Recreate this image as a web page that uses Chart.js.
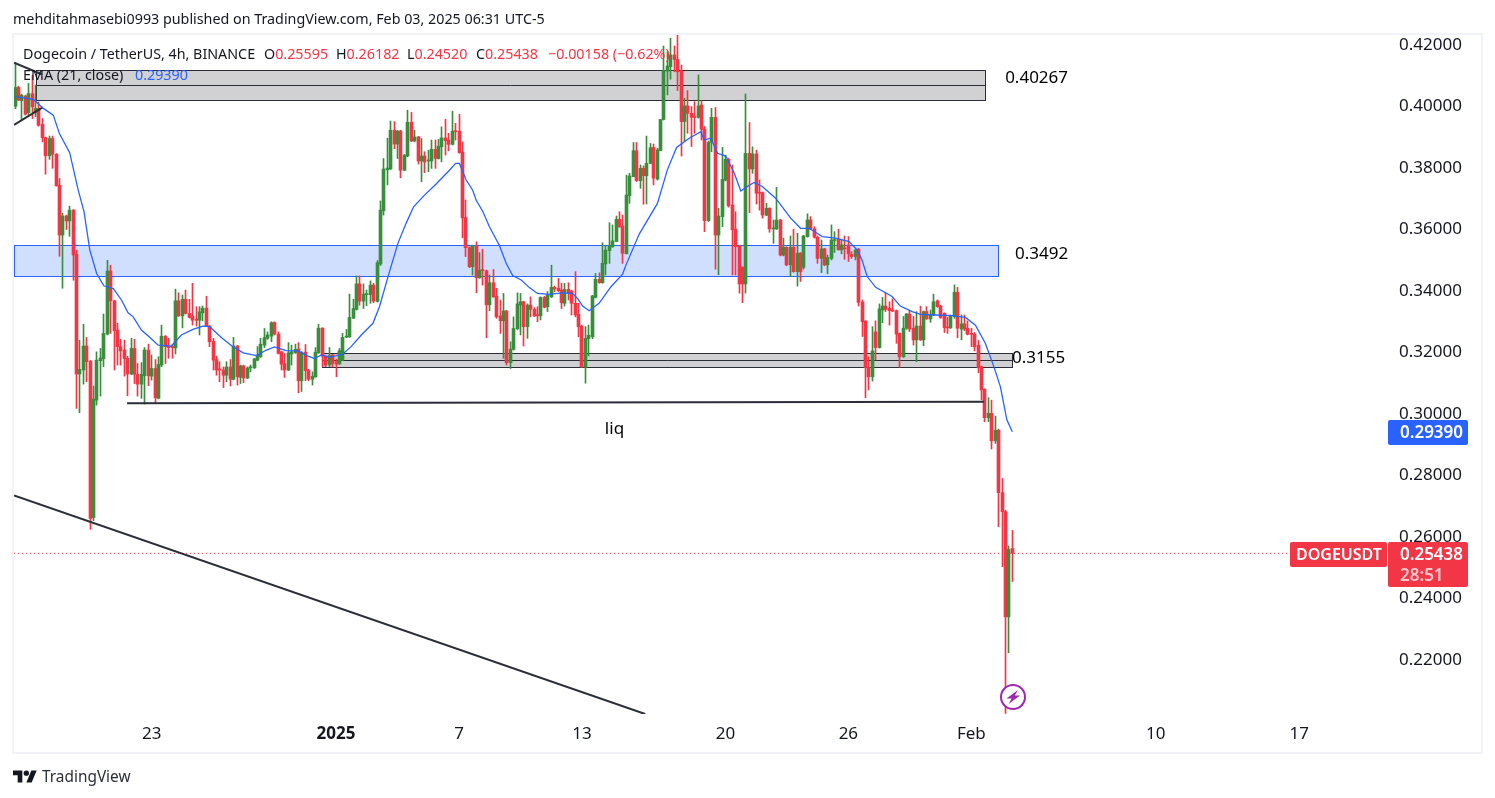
<!DOCTYPE html>
<html><head><meta charset="utf-8">
<script src="https://cdn.jsdelivr.net/npm/chart.js@4"></script>
<style>
html,body{margin:0;padding:0;background:#fff;width:1495px;height:798px;overflow:hidden;font-family:"Noto Sans",sans-serif;color:#131722}
#c{position:absolute;left:0;top:0}
.t{position:absolute;white-space:pre;font-size:14.3px;line-height:18px}
#frame{position:absolute;left:12px;top:33px;width:1467px;height:717px;border:2px solid #f0f3fa;pointer-events:none}
.r{color:#f23645}.b{color:#2962ff}
</style></head><body>
<canvas id="c" width="1495" height="798"></canvas>
<div id="frame"></div>
<div class="t" style="left:13px;top:10px">mehditahmasebi0993 published on TradingView.com, Feb 03, 2025 06:31 UTC-5</div>
<div class="t" style="left:23px;top:45px">Dogecoin / TetherUS, 4h, BINANCE</div>
<div class="t" style="left:264px;top:45px">O<span class="r">0.25595</span></div>
<div class="t" style="left:336px;top:45px">H<span class="r">0.26182</span></div>
<div class="t" style="left:407px;top:45px">L<span class="r">0.24520</span></div>
<div class="t" style="left:476px;top:45px">C<span class="r">0.25438</span></div>
<div class="t r" style="left:548px;top:45px">−0.00158 (−0.62%)</div>
<div class="t" style="left:23px;top:66px">EMA (21, close)</div>
<div class="t b" style="left:135px;top:66px">0.29390</div>
<svg style="position:absolute;left:13px;top:769px" width="24" height="15" viewBox="0 4 36 18"><path fill="#131722" d="M14 22H7V11H0V4h14v18zM28 22h-8l7.5-18h8L28 22z"/><circle fill="#131722" cx="20" cy="8" r="4"/></svg>
<div class="t" style="left:42px;top:768px;font-size:15.4px;color:#2a2e39">TradingView</div>
<svg style="position:absolute;left:999px;top:683px" width="28" height="28" viewBox="0 0 28 28"><circle cx="14" cy="14" r="12" fill="#fff" stroke="#9c27b0" stroke-width="2"/><path fill="#9c27b0" d="M19 7 7.5 15.5h5.2L9.5 21 21 12.5h-5.2z"/></svg>
<script>
const opens=[
.3998,.4059,.4016,.4031,.3977,.4039,.3977,.3991,.3939,.3896,
.3837,.3893,.3842,.3741,.3579,.3641,.3625,.3660,.3517,.3127,
.3140,.3218,.3169,.2660,.3042,.3170,.3177,.3257,.3462,.3365,
.3270,.3216,.3205,.3178,.3127,.3210,.3126,.3094,.3121,.3205,
.3120,.3145,.3048,.3156,.3250,.3218,.3217,.3212,.3365,.3316,
.3370,.3324,.3315,.3305,.3302,.3326,.3341,.3283,.3233,.3174,
.3142,.3140,.3123,.3150,.3110,.3218,.3116,.3153,.3114,.3147,
.3147,.3172,.3183,.3221,.3243,.3250,.3294,.3257,.3199,.3161,
.3140,.3192,.3196,.3208,.3105,.3198,.3140,.3110,.3118,.3196,
.3276,.3185,.3157,.3189,.3167,.3160,.3172,.3247,.3248,.3309,
.3337,.3420,.3364,.3385,.3385,.3416,.3363,.3485,.3658,.3791,
.3794,.3920,.3875,.3917,.3790,.3836,.3946,.3885,.3898,.3820,
.3836,.3820,.3820,.3858,.3828,.3866,.3895,.3888,.3874,.3917,
.3917,.3849,.3636,.3538,.3476,.3544,.3440,.3465,.3463,.3352,
.3424,.3380,.3316,.3300,.3332,.3164,.3207,.3274,.3351,.3362,
.3281,.3351,.3337,.3319,.3316,.3376,.3346,.3378,.3409,.3406,
.3400,.3357,.3402,.3397,.3357,.3321,.3283,.3149,.3242,.3248,
.3376,.3435,.3424,.3485,.3528,.3541,.3558,.3630,.3609,.3518,
.3707,.3769,.3853,.3756,.3796,.3772,.3812,.3864,.3761,.3854,
.3955,.4112,.4127,.4165,.4150,.4114,.3948,.3999,.3975,.3966,
.3962,.4002,.3924,.3626,.3880,.3962,.3579,.3639,.3758,.3825,
.3677,.3598,.3544,.3474,.3420,.3845,.3794,.3843,.3717,.3717,
.3644,.3666,.3599,.3599,.3628,.3514,.3539,.3482,.3539,.3460,
.3520,.3474,.3574,.3628,.3599,.3572,.3503,.3534,.3482,.3503,
.3561,.3565,.3531,.3536,.3547,.3516,.3509,.3533,.3361,.3299,
.3148,.3118,.3264,.3213,.3335,.3348,.3341,.3335,.3333,.3259,
.3183,.3276,.3322,.3276,.3238,.3283,.3238,.3330,.3306,.3319,
.3365,.3348,.3324,.3279,.3277,.3314,.3393,.3273,.3290,.3276,
.3259,.3256,.3221,.3151,.3077,.2985,.2999,.2910,.2944,.2741,.2679,.2337,.25595];
const closes=[
.4059,.4018,.4034,.3972,.4039,.3996,.3991,.3936,.3896,.3837,
.3893,.3842,.3739,.3579,.3641,.3625,.3660,.3514,.3127,.3142,
.3218,.3167,.2657,.3045,.3172,.3179,.3259,.3462,.3365,.3268,
.3216,.3202,.3177,.3127,.3210,.3126,.3094,.3126,.3205,.3121,
.3145,.3050,.3158,.3250,.3216,.3213,.3213,.3365,.3316,.3370,
.3324,.3311,.3302,.3302,.3329,.3341,.3283,.3232,.3172,.3140,
.3140,.3123,.3150,.3110,.3218,.3118,.3153,.3114,.3146,.3150,
.3176,.3189,.3224,.3245,.3254,.3294,.3257,.3194,.3159,.3140,
.3196,.3199,.3207,.3105,.3198,.3138,.3110,.3120,.3198,.3276,
.3185,.3156,.3187,.3161,.3159,.3203,.3246,.3250,.3311,.3340,
.3420,.3364,.3387,.3387,.3416,.3364,.3489,.3660,.3794,.3797,
.3920,.3875,.3917,.3790,.3839,.3946,.3885,.3898,.3820,.3836,
.3817,.3823,.3858,.3828,.3868,.3895,.3886,.3874,.3917,.3915,
.3847,.3635,.3538,.3476,.3544,.3440,.3465,.3463,.3352,.3424,
.3378,.3313,.3300,.3332,.3164,.3208,.3275,.3355,.3362,.3281,
.3351,.3337,.3316,.3317,.3376,.3344,.3384,.3409,.3404,.3398,
.3359,.3402,.3391,.3357,.3319,.3281,.3150,.3243,.3253,.3381,
.3435,.3424,.3487,.3530,.3544,.3560,.3630,.3606,.3520,.3709,
.3771,.3853,.3756,.3796,.3772,.3812,.3863,.3764,.3856,.3955,
.4114,.4129,.4165,.4150,.4110,.3948,.3999,.3975,.3962,.3962,
.3999,.3923,.3626,.3880,.3962,.3579,.3641,.3760,.3825,.3674,
.3596,.3541,.3420,.3420,.3845,.3794,.3843,.3715,.3715,.3644,
.3666,.3599,.3601,.3628,.3514,.3539,.3482,.3539,.3460,.3520,
.3460,.3576,.3628,.3599,.3572,.3503,.3534,.3482,.3506,.3563,
.3563,.3531,.3547,.3534,.3518,.3509,.3530,.3360,.3297,.3148,
.3118,.3202,.3213,.3339,.3348,.3337,.3333,.3332,.3257,.3183,
.3276,.3322,.3273,.3238,.3283,.3238,.3330,.3306,.3321,.3362,
.3346,.3311,.3278,.3277,.3314,.3393,.3276,.3290,.3273,.3256,
.3256,.3216,.3148,.3075,.2985,.2999,.2910,.2944,.2741,.2679,.2337,.2557,.25438];
const highs=[
.4139,.4063,.4037,.4034,.4072,.4099,.4067,.4012,.3958,.3898,
.3901,.3901,.3844,.3763,.3650,.3644,.3673,.3662,.3530,.3237,
.3289,.3246,.3171,.3088,.3199,.3210,.3322,.3497,.3481,.3367,
.3292,.3240,.3237,.3185,.3243,.3240,.3161,.3164,.3213,.3224,
.3189,.3174,.3183,.3286,.3252,.3243,.3224,.3403,.3391,.3384,
.3400,.3370,.3422,.3346,.3346,.3348,.3380,.3285,.3243,.3185,
.3167,.3150,.3167,.3174,.3246,.3220,.3156,.3156,.3150,.3156,
.3178,.3216,.3243,.3275,.3264,.3297,.3297,.3264,.3201,.3194,
.3229,.3221,.3224,.3229,.3200,.3223,.3142,.3134,.3213,.3289,
.3278,.3187,.3213,.3191,.3175,.3210,.3259,.3272,.3387,.3370,
.3446,.3446,.3420,.3400,.3430,.3422,.3496,.3690,.3828,.3894,
.3950,.3948,.3919,.3920,.3841,.3985,.3978,.3920,.3900,.3893,
.3850,.3855,.3888,.3888,.3890,.3931,.3956,.3910,.3982,.3942,
.3972,.3882,.3693,.3541,.3546,.3557,.3522,.3533,.3465,.3449,
.3467,.3406,.3368,.3389,.3334,.3232,.3313,.3391,.3389,.3364,
.3355,.3378,.3343,.3346,.3378,.3380,.3395,.3481,.3413,.3438,
.3422,.3422,.3424,.3399,.3460,.3357,.3286,.3281,.3286,.3383,
.3454,.3456,.3554,.3544,.3619,.3612,.3641,.3655,.3644,.3774,
.3780,.3880,.3880,.3807,.3804,.3901,.3877,.3875,.3861,.3955,
.4194,.4176,.4219,.4194,.4233,.4132,.4024,.4049,.3997,.4013,
.4100,.4016,.3932,.3885,.3991,.3994,.3666,.3864,.3839,.3829,
.3807,.3655,.3546,.3476,.4038,.3945,.3866,.3855,.3758,.3719,
.3682,.3668,.3628,.3734,.3630,.3569,.3541,.3576,.3598,.3585,
.3522,.3578,.3648,.3639,.3606,.3576,.3563,.3536,.3514,.3612,
.3590,.3598,.3563,.3576,.3574,.3525,.3533,.3536,.3368,.3301,
.3183,.3281,.3300,.3355,.3376,.3392,.3362,.3371,.3335,.3261,
.3314,.3324,.3332,.3314,.3330,.3348,.3332,.3346,.3335,.3387,
.3368,.3351,.3326,.3311,.3319,.3417,.3409,.3319,.3319,.3300,
.3276,.3262,.3236,.3153,.3079,.3050,.3042,.2990,.2948,.2787,.2684,.2568,.26182];
const lows=[
.3990,.4016,.3955,.3969,.3969,.3958,.3964,.3933,.3882,.3777,
.3825,.3796,.3738,.3510,.3406,.3597,.3575,.3432,.3015,.3001,
.3094,.3102,.2622,.2650,.3026,.3055,.3151,.3254,.3259,.3140,
.3156,.3156,.3120,.3056,.3125,.3096,.3055,.3048,.3029,.3089,
.3107,.3034,.3046,.3151,.3161,.3178,.3178,.3192,.3314,.3277,
.3322,.3309,.3286,.3283,.3254,.3300,.3281,.3216,.3140,.3123,
.3102,.3083,.3102,.3088,.3108,.3091,.3096,.3099,.3112,.3134,
.3145,.3170,.3181,.3213,.3240,.3232,.3254,.3192,.3140,.3116,
.3138,.3156,.3194,.3066,.3070,.3105,.3105,.3091,.3116,.3194,
.3151,.3151,.3151,.3150,.3118,.3158,.3170,.3245,.3246,.3307,
.3335,.3351,.3340,.3349,.3357,.3359,.3361,.3480,.3644,.3742,
.3792,.3860,.3828,.3765,.3788,.3834,.3883,.3882,.3810,.3752,
.3782,.3785,.3796,.3796,.3826,.3817,.3839,.3853,.3872,.3888,
.3845,.3570,.3509,.3473,.3449,.3391,.3438,.3416,.3245,.3333,
.3376,.3308,.3259,.3178,.3156,.3145,.3205,.3272,.3254,.3218,
.3243,.3313,.3314,.3297,.3303,.3342,.3330,.3376,.3395,.3395,
.3340,.3348,.3368,.3319,.3313,.3248,.3148,.3097,.3186,.3242,
.3374,.3422,.3422,.3449,.3487,.3539,.3557,.3604,.3487,.3518,
.3682,.3769,.3753,.3731,.3679,.3680,.3812,.3742,.3758,.3854,
.3953,.4035,.4086,.4110,.4049,.3836,.3883,.3910,.3867,.3910,
.3959,.3888,.3590,.3623,.3850,.3468,.3450,.3606,.3755,.3670,
.3449,.3449,.3390,.3359,.3390,.3652,.3780,.3680,.3660,.3634,
.3642,.3588,.3552,.3597,.3511,.3511,.3479,.3444,.3458,.3413,
.3428,.3468,.3572,.3596,.3569,.3487,.3457,.3479,.3453,.3498,
.3522,.3530,.3518,.3500,.3493,.3503,.3498,.3348,.3249,.3050,
.3075,.3104,.3173,.3211,.3294,.3330,.3286,.3330,.3227,.3149,
.3181,.3272,.3265,.3221,.3167,.3236,.3219,.3305,.3295,.3317,
.3344,.3308,.3262,.3259,.3275,.3308,.3245,.3238,.3268,.3254,
.3216,.3202,.3131,.3043,.2972,.2972,.2883,.2901,.2630,.2500,.2023,.2220,.24520];

const emaBars=[0,5.4,8.3,11.2,13,16,18.5,20.2,21.9,23.9,26,28.8,31.2,33.1,34.6,37,39.5,41.9,45.8,48.7,52.1,55,57,60.4,63.4,66.8,70.7,73.6,76,79.4,82.8,85.8,87.7,89.7,92.1,96,98.4,101.4,104.8,106.7,109.2,112.1,114.5,116.7,119.9,123.3,127.2,129,130.1,132.1,134,135,137,138.9,141.8,143.8,145.7,148.2,150.6,153,156.4,160.3,163.2,164.7,166.2,168.1,171,174.5,177.9,178.9,182.8,188.1,191,193.7,197.4,200.8,201.8,203.7,205.7,208.1,210.6,212.5,214.4,216.4,218.8,222.7,227.1,230,232.5,236.4,240.3,244.2,246.6,248,249.5,252,256.8,259.2,262.7,265.1,269.5,274.2,278.3,281.2,284.1,286.6,288.5,290.4,292];
const emaValues=[.4029,.4020,.3991,.3969,.3909,.3847,.3725,.3655,.3530,.3454,.3414,.3405,.3367,.3326,.3313,.3270,.3246,.3221,.3218,.3254,.3272,.3283,.3281,.3246,.3219,.3196,.3187,.3205,.3215,.3203,.3202,.3185,.3177,.3189,.3181,.3192,.3216,.3254,.3292,.3346,.3443,.3552,.3617,.3671,.3709,.3745,.3790,.3812,.3812,.3758,.3725,.3693,.3655,.3606,.3546,.3487,.3447,.3433,.3408,.3389,.3386,.3391,.3389,.3373,.3348,.3333,.3357,.3411,.3452,.3482,.3583,.3682,.3791,.3864,.3894,.3915,.3888,.3894,.3845,.3836,.3780,.3722,.3737,.3750,.3737,.3699,.3634,.3601,.3601,.3574,.3569,.3558,.3530,.3498,.3444,.3409,.3379,.3348,.3330,.3321,.3319,.3317,.3311,.3286,.3227,.3151,.3086,.2978,.2939];

const priceTicks=[.22,.24,.26,.28,.30,.32,.34,.36,.38,.40,.42];
const timeTickBars=[40,94,130,166,208,244,280,334,376];
const timeTickLabels=['23','2025','7','13','20','26','Feb','10','17'];
const lastPrice=.25438, lastEma=.2939;
const grayZones=[[6.1,284,.41145,.4066,.4018],[90,291.9,.3194,.3171,.3149]];
const blueZone=[-.3,287.8,.3546,.3445];
const trendLow=[{x:-.3,y:.2732},{x:184.5,y:.2021}];
const liqLine=[{x:32.8,y:.3032},{x:283.7,y:.3037}];
const wedgeTop=[{x:-.3,y:.414},{x:7.8,y:.4102}];
const wedgeBottom=[{x:-.3,y:.3937},{x:8.1,y:.3994}];
const notes=[['0.40267',289.9,.40894],['0.3492',292.8,.35171],['0.3155',291.9,.31789],['liq',172.7,.2948]];

const GREEN='#388e3c',RED='#f23645',INK='#2a2e39';
const idx=opens.map((_,i)=>i);
const colors=idx.map(i=>closes[i]>=opens[i]?GREEN:RED);
const FONT='"Noto Sans",sans-serif';
const line=(data,extra)=>Object.assign({type:'line',data,borderColor:INK,borderWidth:2,pointRadius:0,order:1,tension:0},extra||{});

const snap={id:'snap',afterDatasetsUpdate(ch){
  ch.getSortedVisibleDatasetMetas().forEach(m=>{if(m.type==='bar')m.data.forEach(e=>{e.x=Math.floor(e.x)+.5;});});
}};
const zonePlugin={id:'zones',beforeDatasetsDraw(ch){
  const c=ch.ctx,X=ch.scales.x,Y=ch.scales.y;
  c.save();
  const rect=(l,r,t,b,fill,stroke,w)=>{
    const x0=Math.round(X.getPixelForValue(l)),x1=Math.round(X.getPixelForValue(r));
    const y0=Math.round(Y.getPixelForValue(t)),y1=Math.round(Y.getPixelForValue(b));
    c.fillStyle=fill;c.fillRect(x0,y0,x1-x0,y1-y0);
    c.strokeStyle=stroke;c.lineWidth=w;c.strokeRect(x0+.5,y0+.5,x1-x0,y1-y0);
  };
  rect(blueZone[0],blueZone[1],blueZone[2],blueZone[3],'#d1dfff','#2962ff',1);
  grayZones.forEach(z=>{
    rect(z[0],z[1],z[2],z[4],'#d1d1d4',INK,1);
    const y=Math.round(Y.getPixelForValue(z[3]))+.5;
    c.beginPath();c.moveTo(X.getPixelForValue(z[0]),y);c.lineTo(X.getPixelForValue(z[1]),y);c.stroke();
  });
  c.restore();
}};
const tagPlugin={id:'tags',afterDraw(ch){
  const c=ch.ctx,X=ch.scales.x,Y=ch.scales.y;
  c.save();
  c.textBaseline='middle';
  c.font='17px '+FONT;c.fillStyle='#000';c.textAlign='left';
  notes.forEach(n=>c.fillText(n[0],X.getPixelForValue(n[1]),Y.getPixelForValue(n[2])));
  const box=(x,y,w,h,col)=>{c.fillStyle=col;c.beginPath();c.roundRect(x,y,w,h,2);c.fill();};
  const ye=Math.round(Y.getPixelForValue(lastEma));
  box(1388,ye-12,80,25,'#2962ff');
  const yp=Math.round(Y.getPixelForValue(lastPrice));
  box(1388,yp-11,80,45,RED);
  box(1290,yp-11,97,25,RED);
  c.font='600 16px '+FONT;c.fillStyle='#fff';
  c.fillText('DOGEUSDT',1296,yp+2);
  c.font='600 17px '+FONT;
  c.fillText('0.29390',1400,ye+1);
  c.fillText('0.25438',1400,yp+2);
  c.fillStyle='rgba(255,255,255,.72)';
  c.fillText('28:51',1400,yp+23);
  c.restore();
}};

new Chart(document.getElementById('c'),{
  type:'bar',
  data:{datasets:[
    line(emaBars.map((b,i)=>({x:b,y:emaValues[i]})),{borderColor:'#2962ff',borderWidth:1.3,order:0}),
    line(trendLow),line(liqLine),line(wedgeTop),line(wedgeBottom),
    line([{x:-.3,y:lastPrice},{x:373.3,y:lastPrice}],{borderColor:RED,borderWidth:1,borderDash:[1,3],order:5}),
    {data:idx.map(i=>({x:i,y:[Math.min(opens[i],closes[i]),Math.max(opens[i],closes[i])]})),backgroundColor:colors,barThickness:3,minBarLength:1,grouped:false,order:2,borderWidth:0},
    {data:idx.map(i=>({x:i,y:[lows[i],highs[i]]})),backgroundColor:colors,barThickness:1,grouped:false,order:3,borderWidth:0}
  ]},
  plugins:[snap,zonePlugin,tagPlugin],
  options:{
    responsive:false,animation:false,devicePixelRatio:1,
    layout:{padding:{left:14,top:34,right:13,bottom:45}},
    plugins:{legend:{display:false},tooltip:{enabled:false},title:{display:false}},
    scales:{
      x:{type:'linear',offset:false,min:-.3,max:402,
        grid:{display:false,drawTicks:false},border:{display:false},
        afterBuildTicks(s){s.ticks=timeTickBars.map(v=>({value:v}));},
        afterFit(s){s.height=39;},
        ticks:{autoSkip:false,maxRotation:0,padding:10,color:'#131722',
          font:c=>({family:FONT,size:17,weight:timeTickLabels[c.index]==='2025'?'700':'400'}),
          callback:(v,i)=>timeTickLabels[i]}},
      y:{type:'linear',position:'right',min:.2021,max:.4233,
        grid:{display:false,drawTicks:false},border:{display:false},
        afterBuildTicks(s){s.ticks=priceTicks.map(v=>({value:v}));},
        afterFit(s){s.width=94;},
        ticks:{autoSkip:false,padding:11,labelOffset:1,color:'#131722',font:{family:FONT,size:17},
          callback:v=>v.toFixed(5)}}
    }
  }
});
</script>
</body></html>
